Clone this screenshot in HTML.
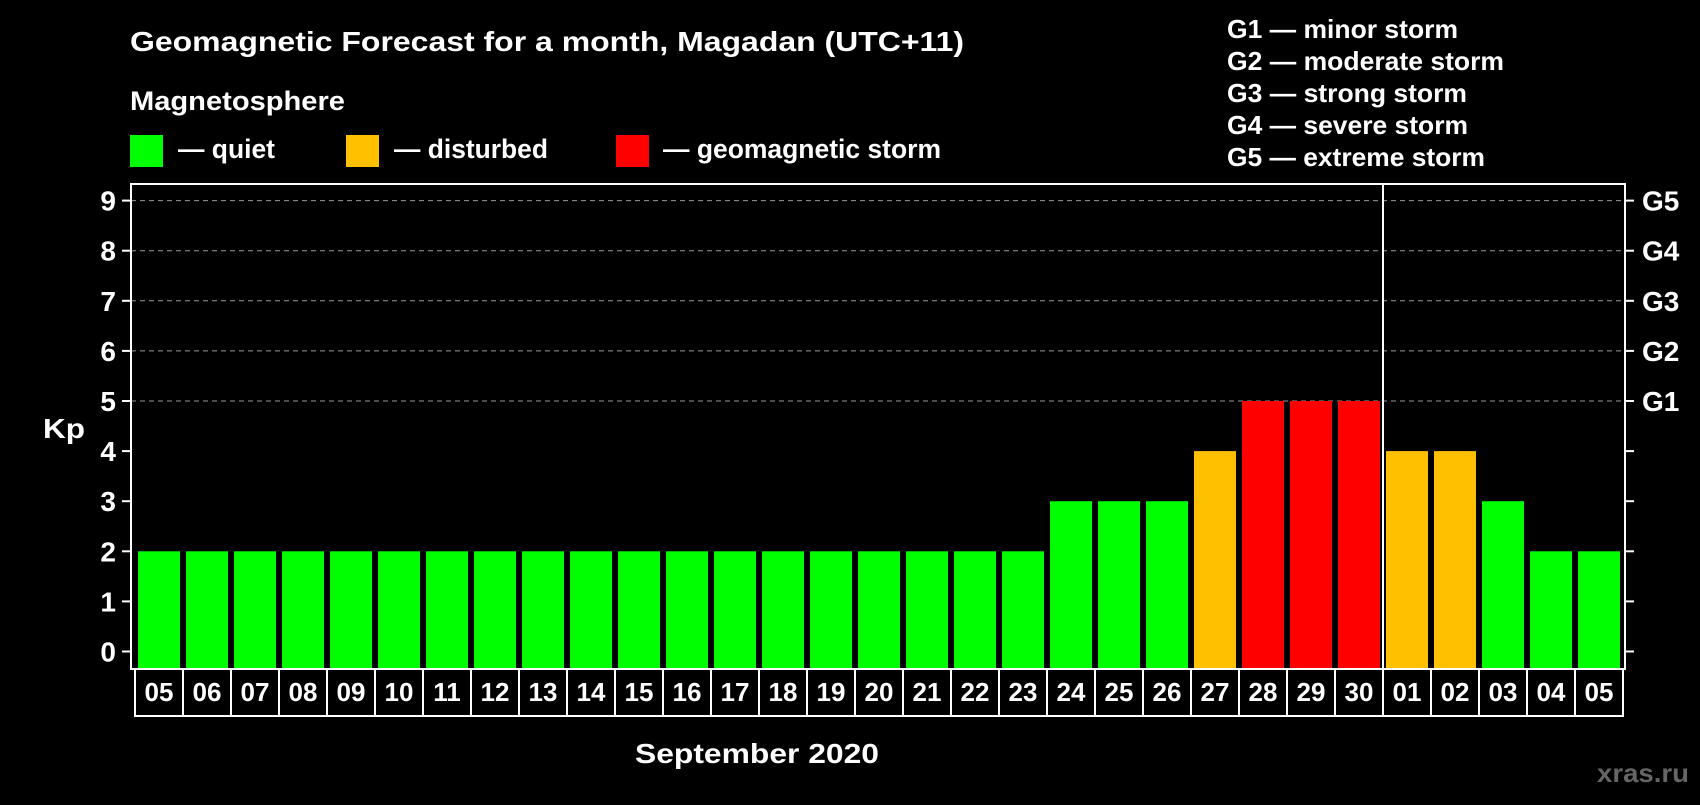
<!DOCTYPE html>
<html><head><meta charset="utf-8"><style>
body{margin:0;background:#000;width:1700px;height:800px;overflow:hidden}
svg text{font-family:"Liberation Sans",Arial,sans-serif;font-weight:bold;fill:#fff}
</style></head><body>
<svg width="1700" height="800">
<g id="root"></g>
</svg>
<script>
const days=["05","06","07","08","09","10","11","12","13","14","15","16","17","18","19","20","21","22","23","24","25","26","27","28","29","30","01","02","03","04","05"];
const kpValues=[2,2,2,2,2,2,2,2,2,2,2,2,2,2,2,2,2,2,2,3,3,3,4,5,5,5,4,4,3,2,2];
const yTicks=[0,1,2,3,4,5,6,7,8,9];
const gLabels=["G1","G2","G3","G4","G5"];
const gLevels=[5,6,7,8,9];
const legendText=["G1 — minor storm","G2 — moderate storm","G3 — strong storm","G4 — severe storm","G5 — extreme storm"];
const legendLens=[231,277,240,241,258];
const NS="http://www.w3.org/2000/svg";
const root=document.getElementById('root');
function el(t,a,txt){const e=document.createElementNS(NS,t);for(const k in a)e.setAttribute(k,a[k]);if(txt!==undefined)e.textContent=txt;root.appendChild(e);return e;}
const L=131,R=1625,T=184,B=669;
const y=v=>651.5-v*50.1;
const xb=i=>138+i*48;
function color(v){return v>=5?'#ff0000':v>=4?'#ffc000':'#00ff00';}
let e;
e=el('text',{x:130,y:51,'font-size':28,textLength:834,lengthAdjust:'spacingAndGlyphs'},'Geomagnetic Forecast for a month, Magadan (UTC+11)');

e=el('text',{x:130,y:110,'font-size':27,textLength:215,lengthAdjust:'spacingAndGlyphs'},'Magnetosphere');

const leg=[[130,'#00ff00','— quiet',178,97],[346,'#ffc000','— disturbed',394,154],[616,'#ff0000','— geomagnetic storm',663,278]];
leg.forEach(l=>{
 e=el('rect',{x:l[0],y:135,width:33,height:32,fill:l[1]});
 
 e=el('text',{x:l[3],y:158,'font-size':27,textLength:l[4],lengthAdjust:'spacingAndGlyphs'},l[2]);
 
});
legendText.forEach((t,i)=>{
 e=el('text',{x:1227,y:38+i*32,'font-size':26,textLength:legendLens[i],lengthAdjust:'spacingAndGlyphs'},t);
 
});
gLevels.forEach(v=>{
 e=el('line',{x1:L,x2:R,y1:y(v),y2:y(v),stroke:'#999','stroke-dasharray':'5,4','stroke-width':1});
 
});
kpValues.forEach((v,i)=>{
 e=el('rect',{x:xb(i),y:y(v),width:42,height:B-y(v),fill:color(v)});
 
});
e=el('rect',{x:L,y:T,width:R-L,height:B-T,fill:'none',stroke:'#fff','stroke-width':2});

e=el('line',{x1:1383,x2:1383,y1:T,y2:B,stroke:'#fff','stroke-width':2});

yTicks.forEach(v=>{
 e=el('line',{x1:L-9,x2:L,y1:y(v),y2:y(v),stroke:'#fff','stroke-width':2});
 
 e=el('line',{x1:R,x2:R+9,y1:y(v),y2:y(v),stroke:'#fff','stroke-width':2});
 
 e=el('text',{x:116,y:y(v)+10,'font-size':28,'text-anchor':'end'},String(v));
 
});
gLabels.forEach((g,i)=>{
 e=el('text',{x:1642,y:y(gLevels[i])+10,'font-size':28},g);
 
});
e=el('text',{x:43,y:438,'font-size':28,textLength:42,lengthAdjust:'spacingAndGlyphs'},'Kp');

days.forEach((d,i)=>{
 e=el('rect',{x:135+i*48,y:B,width:48,height:47,fill:'none',stroke:'#fff','stroke-width':2});
 
 e=el('text',{x:159+i*48,y:701,'font-size':26,'text-anchor':'middle'},d);
 
});
e=el('text',{x:635,y:763,'font-size':28,textLength:244,lengthAdjust:'spacingAndGlyphs'},'September 2020');

e=el('text',{x:1597,y:782,'font-size':26,textLength:92,lengthAdjust:'spacingAndGlyphs',style:'fill:#666'},'xras.ru');

</script>
</body></html>
